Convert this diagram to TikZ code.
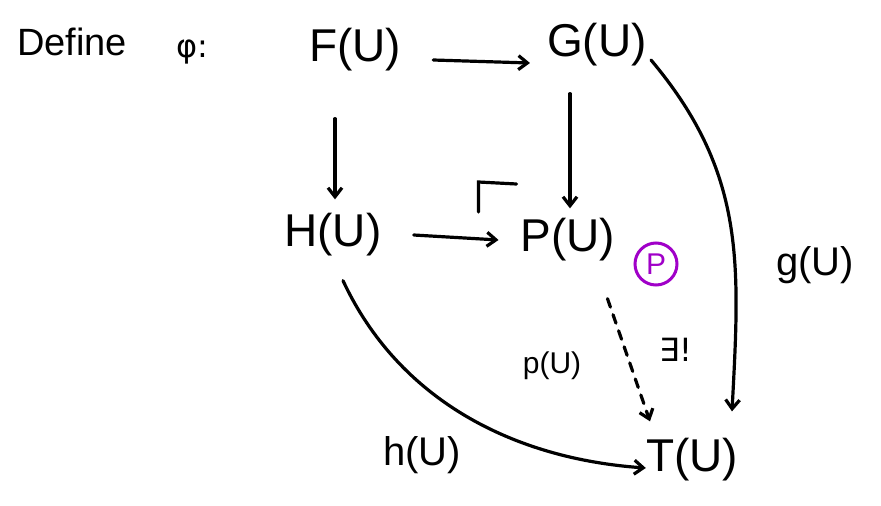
\documentclass[tikz,border=0pt]{standalone}
\usepackage{fontspec}
\setmainfont{Liberation Sans}
\newfontfamily\symfont{DejaVu Sans}
\usetikzlibrary{arrows.meta,calc}
\begin{document}
\begin{tikzpicture}[x=1pt,y=-1pt,
  obj/.style={inner sep=2pt,font=\fontsize{46}{48}\selectfont},
  lbl/.style={inner sep=1pt,font=\fontsize{40}{42}\selectfont},
  arr/.style={line width=3.2pt,-{Straight Barb[length=9pt,width=14pt]},line cap=round},
  ink/.style={line width=3.2pt,line cap=round},
  pushpurple/.style={draw=pcol,line width=3pt,circle,inner sep=0pt,minimum size=42pt,text=pcol,font=\fontsize{30}{30}\selectfont}]
\definecolor{pcol}{RGB}{160,0,200}
\useasboundingbox (0,0) rectangle (881,506);
\node[lbl,font=\fontsize{38}{40}\selectfont] (define) at (72,42) {Define};
\node[lbl,font=\fontsize{32}{34}\selectfont\symfont] (phi) at (192,52) {φ:};
\node[obj] (F) at (355,50) {F(U)};
\node[obj] (G) at (597,45) {G(U)};
\node[obj] (H) at (333,235) {H(U)};
\node[obj] (P) at (568,240) {P(U)};
\node[obj] (T) at (692,460) {T(U)};
\node[pushpurple] (po) at (656,264) {P};
\node[lbl,font=\fontsize{30}{32}\selectfont] (pl) at (552,366) {p(U)};
\node[lbl,font=\fontsize{32}{34}\selectfont\symfont] (ex) at (676,350) {∃!};
\node[lbl] (gl) at (815,265) {g(U)};
\node[lbl] (hl) at (422,455) {h(U)};
% arrows
\draw[arr] (F.east) ++(30,10) coordinate (fs) (fs) -- ($(G.west)+(-15,18)$) coordinate (ft);
\draw[arr] ($(F.south)+(-20,45)$) coordinate (a1) -- ($(H.north)+(2,-12)$);
\draw[arr] ($(G.south)+(-27,25)$) coordinate (a2) -- ($(P.north)+(2,-8)$);
\draw[arr] ($(H.east)+(30,0)$) -- ($(P.west)+(-20,0)$);
\draw[arr,dashed,dash pattern=on 9pt off 8pt] ($(P.south east)+(-10,35)$) -- ($(T.north)+(-42,-15)$);
\draw[arr] ($(G.east)+(2,15)$) to[out=-50,in=87,looseness=1.05] ($(T.north)+(40,-25)$);
\draw[arr] ($(H.south)+(10,22)$) to[out=-65,in=176,looseness=0.95] ($(T.west)+(2,8)$);
% pushout corner
\draw[ink] ($(P.west)+(-40,-28)$) -- ++(0,-30) -- ++(38,2);
\end{tikzpicture}
\end{document}
